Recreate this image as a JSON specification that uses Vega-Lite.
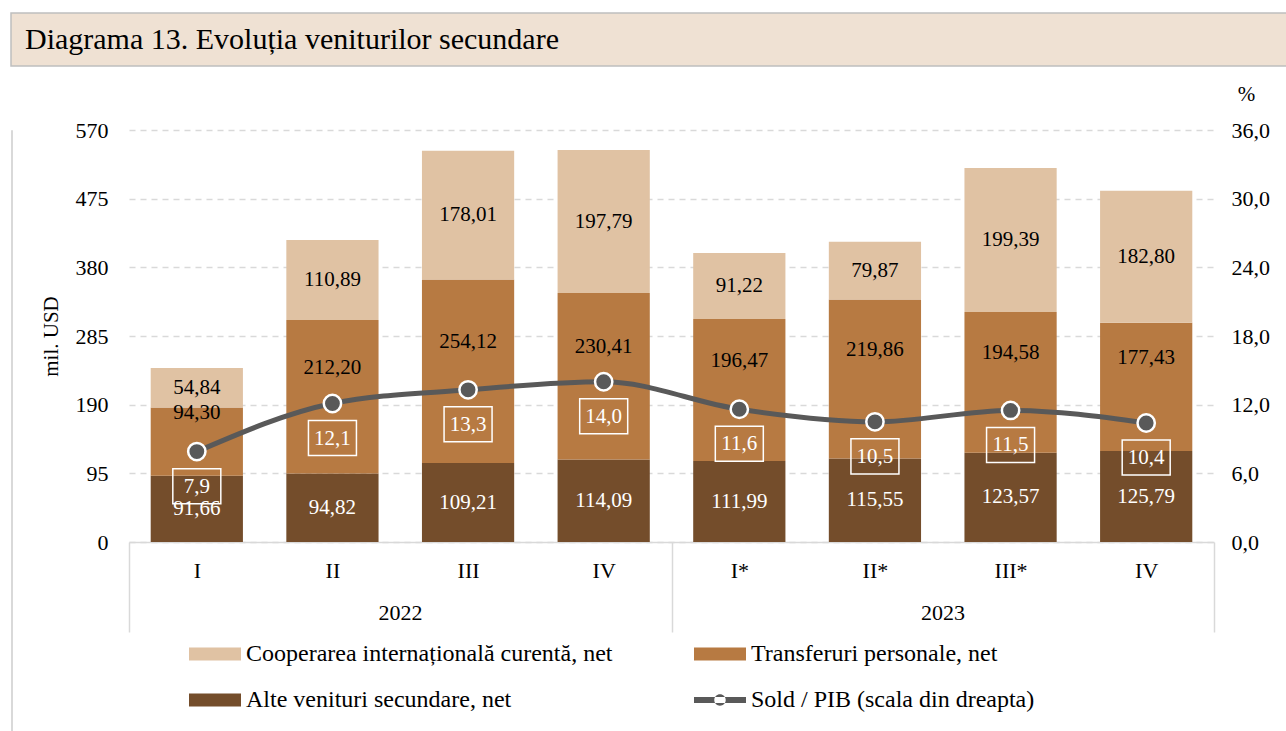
{
  "$schema": "https://vega.github.io/schema/vega-lite/v6.json",
  "background": "white",
  "padding": {"left": 10, "top": 12, "right": 0, "bottom": 0},
  "spacing": 16,
  "config": {
    "locale": {"number": {"decimal": ",", "thousands": ".", "grouping": [3], "currency": ["", ""]}},
    "font": "Liberation Serif",
    "view": {"stroke": null},
    "axis": {"labelFont": "Liberation Serif", "titleFont": "Liberation Serif", "labelColor": "#000000", "titleColor": "#000000"},
    "legend": {"labelFont": "Liberation Serif"}
  },
  "vconcat": [
    {
      "width": 1276,
      "height": 53,
      "view": {"fill": "#EFE1D3", "stroke": "#BFBFBF", "strokeWidth": 1.5},
      "data": {"values": [{"t": "Diagrama 13. Evoluția veniturilor secundare"}]},
      "mark": {"type": "text", "align": "left", "baseline": "middle", "fontSize": 30, "dx": 14, "color": "#000000", "font": "Liberation Serif"},
      "encoding": {
        "x": {"datum": 0, "type": "quantitative", "scale": {"domain": [0, 1]}, "axis": null},
        "text": {"field": "t"}
      }
    },
    {
      "spacing": 27,
      "hconcat": [
        {
          "width": 1,
          "height": 602,
          "view": {"stroke": "#D9D9D9", "strokeWidth": 1},
          "data": {"values": [{"t": ""}]},
          "mark": {"type": "text"},
          "encoding": {"text": {"field": "t"}}
        },
        {
          "width": 1085,
          "height": 412,
          "data": {"values": [
            {"q": "2022 I", "coop": 54.84, "transf": 94.30, "alte": 91.66, "sold": 7.9},
            {"q": "2022 II", "coop": 110.89, "transf": 212.20, "alte": 94.82, "sold": 12.1},
            {"q": "2022 III", "coop": 178.01, "transf": 254.12, "alte": 109.21, "sold": 13.3},
            {"q": "2022 IV", "coop": 197.79, "transf": 230.41, "alte": 114.09, "sold": 14.0},
            {"q": "2023 I*", "coop": 91.22, "transf": 196.47, "alte": 111.99, "sold": 11.6},
            {"q": "2023 II*", "coop": 79.87, "transf": 219.86, "alte": 115.55, "sold": 10.5},
            {"q": "2023 III*", "coop": 199.39, "transf": 194.58, "alte": 123.57, "sold": 11.5},
            {"q": "2023 IV", "coop": 182.80, "transf": 177.43, "alte": 125.79, "sold": 10.4}
          ]},
          "layer": [
            {
              "layer": [
                {
                  "transform": [
                    {"fold": ["alte", "transf", "coop"], "as": ["key", "value"]},
                    {"calculate": "indexof(['alte','transf','coop'], datum.key)", "as": "k"},
                    {"stack": "value", "groupby": ["q"], "sort": [{"field": "k", "order": "ascending"}], "as": ["v0", "v1"]}
                  ],
                  "mark": {"type": "bar", "width": {"band": 0.68}},
                  "encoding": {
                    "x": {
                      "field": "q", "type": "nominal",
                      "scale": {"domain": ["2022 I", "2022 II", "2022 III", "2022 IV", "2023 I*", "2023 II*", "2023 III*", "2023 IV"], "paddingInner": 0, "paddingOuter": 0},
                      "axis": {
                        "title": null,
                        "labelExpr": "split(datum.value, ' ')[1]",
                        "labelAngle": 0,
                        "labelFontSize": 22,
                        "labelPadding": -72,
                        "labelBaseline": "top",
                        "domainColor": "#D9D9D9",
                        "domainWidth": 1.5,
                        "tickBand": "extent",
                        "ticks": true,
                        "tickSize": 90,
                        "tickColor": "#D9D9D9",
                        "tickWidth": 1.5,
                        "tickOpacity": {"condition": {"test": "datum.value == '2022 IV' || datum.value == '2023 IV' || datum.extra", "value": 1}, "value": 0},
                        "grid": false
                      }
                    },
                    "y": {
                      "field": "v0", "type": "quantitative",
                      "scale": {"domain": [0, 570], "nice": false},
                      "axis": {
                        "title": "mil. USD",
                        "titleFontSize": 21,
                        "titleFontWeight": "normal",
                        "titlePadding": 14,
                        "values": [0, 95, 190, 285, 380, 475, 570],
                        "format": "d",
                        "labelFontSize": 22,
                        "labelPadding": 21,
                        "ticks": false,
                        "domain": false,
                        "grid": true,
                        "gridColor": "#D9D9D9",
                        "gridDash": [6, 5],
                        "gridWidth": 1.3
                      }
                    },
                    "y2": {"field": "v1"},
                    "color": {
                      "field": "key", "type": "nominal",
                      "scale": {"domain": ["coop", "alte", "transf", "sold"], "range": ["#E0C2A3", "#744D2B", "#B77A42", "#595959"]},
                      "legend": {
                        "title": null,
                        "orient": "none",
                        "legendX": 178,
                        "legendY": 615,
                        "columns": 2,
                        "columnPadding": 81,
                        "rowPadding": 8,
                        "padding": 0,
                        "labelFontSize": 24,
                        "labelColor": "#000000",
                        "labelOffset": 5,
                        "labelLimit": 0,
                        "symbolSize": 2704,
                        "symbolStrokeWidth": 0,
                        "labelExpr": "datum.value == 'coop' ? 'Cooperarea internațională curentă, net' : datum.value == 'transf' ? 'Transferuri personale, net' : datum.value == 'alte' ? 'Alte venituri secundare, net' : 'Sold / PIB (scala din dreapta)'",
                        "encode": {
                          "symbols": {
                            "update": {
                              "shape": {"signal": "datum.value == 'sold' ? 'M-1,-0.12L1,-0.12L1,0.12L-1,0.12Z M-0.22,0A0.22,0.22 0 1,0 0.22,0A0.22,0.22 0 1,0 -0.22,0Z' : 'M-1,-0.25L1,-0.25L1,0.25L-1,0.25Z'"},
                              "fill": {"signal": "scale('color', datum.value)"},
                              "fillOpacity": {"value": 1},
                              "strokeWidth": {"value": 0}
                            }
                          }
                        }
                      }
                    }
                  }
                },
                {
                  "transform": [
                    {"fold": ["alte", "transf", "coop"], "as": ["key", "value"]},
                    {"calculate": "indexof(['alte','transf','coop'], datum.key)", "as": "k"},
                    {"stack": "value", "groupby": ["q"], "sort": [{"field": "k", "order": "ascending"}], "as": ["v0", "v1"]},
                    {"calculate": "(datum.v0 + datum.v1) / 2", "as": "mid"},
                    {"filter": "datum.key != 'transf'"}
                  ],
                  "mark": {"type": "text", "fontSize": 21, "baseline": "middle", "align": "center"},
                  "encoding": {
                    "x": {"field": "q", "type": "nominal"},
                    "y": {"field": "mid", "type": "quantitative"},
                    "text": {"field": "value", "type": "quantitative", "format": ".2f"},
                    "color": {"condition": {"test": "datum.key == 'alte'", "value": "#FFFFFF"}, "value": "#000000"}
                  }
                },
                {
                  "transform": [
                    {"fold": ["alte", "transf", "coop"], "as": ["key", "value"]},
                    {"calculate": "indexof(['alte','transf','coop'], datum.key)", "as": "k"},
                    {"stack": "value", "groupby": ["q"], "sort": [{"field": "k", "order": "ascending"}], "as": ["v0", "v1"]},
                    {"calculate": "(datum.v0 + datum.v1) / 2", "as": "mid"},
                    {"filter": "datum.key == 'transf'"}
                  ],
                  "mark": {"type": "text", "fontSize": 21, "baseline": "middle", "align": "center", "dy": -29, "color": "#000000"},
                  "encoding": {
                    "x": {"field": "q", "type": "nominal"},
                    "y": {"field": "mid", "type": "quantitative"},
                    "text": {"field": "value", "type": "quantitative", "format": ".2f"}
                  }
                },
                {
                  "data": {"values": [{"year": "2022", "q": "2022 II"}, {"year": "2023", "q": "2023 II*"}]},
                  "mark": {"type": "text", "fontSize": 22, "baseline": "middle", "align": "center", "dx": 68, "dy": 71, "color": "#000000"},
                  "encoding": {
                    "x": {"field": "q", "type": "nominal"},
                    "y": {"datum": 0, "type": "quantitative"},
                    "text": {"field": "year"}
                  }
                }
              ]
            },
            {
              "layer": [
                {
                  "mark": {"type": "line", "color": "#595959", "strokeWidth": 5, "interpolate": "monotone"},
                  "encoding": {
                    "x": {"field": "q", "type": "nominal"},
                    "y": {
                      "field": "sold", "type": "quantitative",
                      "scale": {"domain": [0, 36], "nice": false},
                      "axis": {
                        "orient": "right",
                        "title": "%",
                        "titleAngle": 0,
                        "titleFontSize": 21,
                        "titleFontWeight": "normal",
                        "titleX": 32,
                        "titleY": -36,
                        "titleAlign": "center",
                        "titleBaseline": "middle",
                        "values": [0, 6, 12, 18, 24, 30, 36],
                        "format": ".1f",
                        "labelFontSize": 22,
                        "labelPadding": 17,
                        "ticks": false,
                        "domain": false,
                        "grid": false
                      }
                    }
                  }
                },
                {
                  "mark": {"type": "circle", "color": "#595959", "stroke": "#FFFFFF", "strokeWidth": 2.5, "size": 300, "opacity": 1},
                  "encoding": {
                    "x": {"field": "q", "type": "nominal"},
                    "y": {"field": "sold", "type": "quantitative"}
                  }
                },
                {
                  "mark": {"type": "point", "shape": "M-1,0.71L1,0.71L1,2.17L-1,2.17Z", "filled": false, "stroke": "#FFFFFF", "strokeWidth": 1.5, "size": 2304, "opacity": 1},
                  "encoding": {
                    "x": {"field": "q", "type": "nominal"},
                    "y": {"field": "sold", "type": "quantitative"}
                  }
                },
                {
                  "mark": {"type": "text", "fontSize": 21, "baseline": "middle", "align": "center", "dy": 35, "color": "#FFFFFF"},
                  "encoding": {
                    "x": {"field": "q", "type": "nominal"},
                    "y": {"field": "sold", "type": "quantitative"},
                    "text": {"field": "sold", "type": "quantitative", "format": ".1f"}
                  }
                }
              ]
            }
          ],
          "resolve": {"scale": {"y": "independent"}}
        }
      ]
    }
  ]
}
